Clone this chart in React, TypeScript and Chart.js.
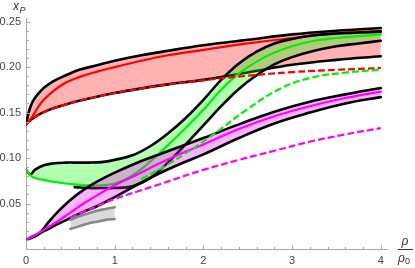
import { useEffect, useRef } from 'react';
import { Chart, registerables } from 'chart.js';
Chart.register(...registerables);

// ---------------- data ----------------
const xTickValues = [0, 1, 2, 3, 4];
const yTickValues = [0.05, 0.1, 0.15, 0.2, 0.25];

// red band
const redX = [0, 0.03, 0.06, 0.1, 0.15, 0.2, 0.3, 0.45, 0.6, 0.8, 1.0, 1.3, 1.6, 2.0, 2.5, 3.0, 3.5, 4.0];
const redUpperBlack = [0.137, 0.15, 0.159, 0.166, 0.172, 0.177, 0.184, 0.191, 0.197, 0.202, 0.207, 0.213, 0.218, 0.224, 0.23, 0.236, 0.24, 0.243];
const redSolid = [0.137, 0.14, 0.144, 0.15, 0.158, 0.164, 0.173, 0.183, 0.189, 0.195, 0.2, 0.207, 0.213, 0.219, 0.226, 0.232, 0.237, 0.24];
const redDashed = [0.137, 0.14, 0.1425, 0.145, 0.148, 0.1505, 0.1545, 0.159, 0.163, 0.1675, 0.1715, 0.1765, 0.181, 0.1855, 0.1905, 0.1945, 0.197, 0.199];
const redLowerBlack = [0.137, 0.14, 0.1425, 0.145, 0.148, 0.1505, 0.1545, 0.159, 0.163, 0.1675, 0.1715, 0.1765, 0.181, 0.186, 0.194, 0.2025, 0.208, 0.212];

// green band
const greenX = [0, 0.05, 0.1, 0.2, 0.3, 0.45, 0.55, 0.7, 0.85, 1.0, 1.2, 1.4, 1.6, 1.8, 2.0, 2.2, 2.4, 2.6, 2.8, 3.0, 3.25, 3.5, 3.75, 4.0];
const greenUpperBlack = [0.087, 0.082, 0.087, 0.092, 0.094, 0.095, 0.095, 0.095, 0.0955, 0.098, 0.103, 0.113, 0.127, 0.144, 0.164, 0.186, 0.204, 0.217, 0.226, 0.231, 0.235, 0.237, 0.238, 0.239];
const greenSolid = [0.087, 0.081, 0.078, 0.076, 0.074, 0.072, 0.071, 0.07, 0.07, 0.072, 0.081, 0.096, 0.114, 0.133, 0.153, 0.175, 0.193, 0.206, 0.216, 0.223, 0.229, 0.232, 0.234, 0.236];
const greenLowerX = [0.55, 0.7, 0.85, 1.0, 1.2, 1.4, 1.6, 1.8, 2.0, 2.2, 2.4, 2.6, 2.8, 3.0, 3.25, 3.5, 3.75, 4.0];
const greenLowerBlack = [0.068, 0.067, 0.067, 0.067, 0.069, 0.078, 0.095, 0.115, 0.136, 0.157, 0.176, 0.191, 0.203, 0.211, 0.218, 0.223, 0.226, 0.229];
const greenDashX = [1.3, 1.6, 2.07, 2.5, 2.86, 3.2, 3.6, 4.0];
const greenDashed = [0.077, 0.093, 0.123, 0.154, 0.176, 0.188, 0.194, 0.197];

// magenta band
const magX = [0, 0.08, 0.15, 0.25, 0.35, 0.5, 0.65, 0.8, 1.0, 1.28, 1.5, 1.75, 2.0, 2.4, 2.8, 3.2, 3.6, 4.0];
const magUpperBlack = [0.01, 0.013, 0.017, 0.029, 0.04, 0.054, 0.065, 0.074, 0.084, 0.096, 0.104, 0.113, 0.122, 0.137, 0.151, 0.162, 0.17, 0.177];
const magSolid = [0.01, 0.014, 0.018, 0.024, 0.03, 0.04, 0.05, 0.059, 0.07, 0.083, 0.094, 0.105, 0.115, 0.132, 0.146, 0.157, 0.166, 0.173];
const magLowerBlack = [0.01, 0.014, 0.017, 0.022, 0.027, 0.034, 0.041, 0.047, 0.057, 0.072, 0.083, 0.094, 0.104, 0.122, 0.138, 0.15, 0.16, 0.167];
const magDashX = [0.5, 0.65, 0.8, 1.0, 1.28, 1.5, 2.0, 2.4, 2.8, 3.2, 3.6, 4.0];
const magDashed = [0.034, 0.041, 0.047, 0.055, 0.064, 0.071, 0.087, 0.098, 0.108, 0.118, 0.126, 0.133];

// gray band
const grayX = [0.5, 0.6, 0.7, 0.8, 0.9, 1.0];
const grayUpper = [0.032, 0.036, 0.039, 0.042, 0.044, 0.046];
const grayLower = [0.022, 0.025, 0.028, 0.03, 0.032, 0.033];

// ---------------- helpers ----------------
const pts = (xs: number[], ys: number[]) => xs.map((x, i) => ({ x, y: ys[i] }));
const FONT = '"Liberation Sans", Arial, sans-serif';

type DS = any;
function buildDatasets() {
  const layers: DS[] = [];
  const add = (d: DS) => {
    layers.push({
      pointRadius: 0,
      tension: 0.4,
      fill: false,
      borderCapStyle: 'round',
      borderJoinStyle: 'round',
      ...d,
    });
    return layers.length - 1;
  };
  const invisible = 'rgba(0,0,0,0)';
  const bandFill = (xs: number[], up: number[], lo: number[], color: string) => {
    const li = add({ data: pts(xs, lo), borderColor: invisible, borderWidth: 1 });
    add({ data: pts(xs, up), borderColor: invisible, borderWidth: 1, fill: { target: li }, backgroundColor: color });
  };
  const dashed = { borderDash: [7, 3], borderCapStyle: 'butt' };

  bandFill(redX, redUpperBlack, redLowerBlack, 'rgba(255,0,0,0.3)');
  add({ data: pts(redX, redLowerBlack), borderColor: '#000', borderWidth: 2.6 });
  add({ data: pts(redX, redUpperBlack), borderColor: '#000', borderWidth: 2.6 });
  add({ data: pts(redX, redSolid), borderColor: '#ff0000', borderWidth: 2.2 });

  const greenFillLower = [...greenSolid.slice(0, 6), ...greenLowerBlack];
  bandFill(greenX, greenUpperBlack, greenFillLower, 'rgba(0,255,0,0.3)');
  add({ data: pts(greenX, greenUpperBlack), borderColor: '#000', borderWidth: 2.6 });
  add({ data: pts(greenLowerX, greenLowerBlack), borderColor: '#000', borderWidth: 2.6 });
  add({ data: pts(greenX, greenSolid), borderColor: '#00f000', borderWidth: 2.2 });
  add({ data: pts(redX, redDashed), borderColor: '#ff0000', borderWidth: 2.2, ...dashed });

  bandFill(magX, magUpperBlack, magLowerBlack, 'rgba(255,0,255,0.3)');
  add({ data: pts(magX, magLowerBlack), borderColor: '#000', borderWidth: 2.6 });
  add({ data: pts(magX, magUpperBlack), borderColor: '#000', borderWidth: 2.6 });
  add({ data: pts(magX, magSolid), borderColor: '#ff00ff', borderWidth: 2.2 });
  add({ data: pts(magDashX, magDashed), borderColor: '#ff00ff', borderWidth: 2.2, ...dashed });
  add({ data: pts(greenDashX, greenDashed), borderColor: '#00f000', borderWidth: 2.2, ...dashed });

  bandFill(grayX, grayUpper, grayLower, 'rgba(128,128,128,0.3)');
  add({ data: pts(grayX, grayUpper), borderColor: '#888', borderWidth: 2.6 });
  add({ data: pts(grayX, grayLower), borderColor: '#888', borderWidth: 2.6 });

  const n = layers.length;
  layers.forEach((d, k) => (d.order = n - k));
  return layers;
}

const axisDecor = {
  id: 'axisDecor',
  afterDraw(chart: any) {
    const { ctx, scales } = chart;
    const xs = scales.x;
    const ys = scales.y;
    const x0 = Math.round(xs.getPixelForValue(0)) + 0.5;
    const y0 = Math.round(ys.getPixelForValue(0)) + 0.5;
    ctx.save();
    ctx.strokeStyle = '#a8a8a8';
    ctx.lineWidth = 1;
    ctx.beginPath();
    for (let i = 1; i <= 20; i++) {
      const px = Math.round(xs.getPixelForValue(i * 0.2)) + 0.5;
      const len = i % 5 === 0 ? 4 : 2.5;
      ctx.moveTo(px, y0);
      ctx.lineTo(px, y0 - len);
    }
    for (let i = 1; i <= 25; i++) {
      const py = Math.round(ys.getPixelForValue(i * 0.01)) + 0.5;
      const len = i % 5 === 0 ? 4 : 2.5;
      ctx.moveTo(x0, py);
      ctx.lineTo(x0 + len, py);
    }
    ctx.stroke();

    ctx.fillStyle = '#333';
    ctx.textBaseline = 'alphabetic';
    ctx.textAlign = 'left';
    ctx.font = `italic 12px ${FONT}`;
    ctx.fillText('x', 13, 10);
    ctx.font = `italic 9px ${FONT}`;
    ctx.fillText('P', 19.5, 13);

    ctx.textAlign = 'center';
    ctx.font = `italic 12px ${FONT}`;
    ctx.fillText('ρ', 405, 245);
    ctx.beginPath();
    ctx.strokeStyle = '#333';
    ctx.moveTo(398, 249.5);
    ctx.lineTo(413, 249.5);
    ctx.stroke();
    ctx.textAlign = 'left';
    ctx.fillText('ρ', 398, 262);
    ctx.font = `9px ${FONT}`;
    ctx.fillText('0', 405, 264);
    ctx.restore();
  },
};

export default function App() {
  const ref = useRef<HTMLCanvasElement>(null);
  useEffect(() => {
    if (!ref.current) return;
    const chart = new Chart(ref.current, {
      type: 'line',
      data: { datasets: buildDatasets() },
      options: {
        animation: false,
        responsive: false,
        devicePixelRatio: 1,
        layout: { padding: { top: 18, right: 28, left: 0, bottom: 0 } },
        plugins: { legend: { display: false }, tooltip: { enabled: false }, filler: { propagate: false } },
        scales: {
          x: {
            type: 'linear',
            min: 0,
            max: 4.07,
            grid: { display: false, drawTicks: false },
            border: { display: true, color: '#a8a8a8', width: 1 },
            ticks: { font: { family: FONT, size: 11 }, color: '#444', padding: 5, maxRotation: 0, autoSkip: false, callback: (v: any) => String(v) },
            afterBuildTicks: (s: any) => { s.ticks = xTickValues.map((v) => ({ value: v })); },
            afterFit: (s: any) => { s.height = 19; },
          },
          y: {
            type: 'linear',
            min: 0,
            max: 0.254,
            grid: { display: false, drawTicks: false },
            border: { display: true, color: '#a8a8a8', width: 1 },
            ticks: { font: { family: FONT, size: 11 }, color: '#444', padding: 5, autoSkip: false, callback: (v: any) => Number(v).toFixed(2) },
            afterBuildTicks: (s: any) => { s.ticks = yTickValues.map((v) => ({ value: v })); },
            afterFit: (s: any) => { s.width = 26; },
          },
        },
      } as any,
      plugins: [axisDecor],
    });
    return () => chart.destroy();
  }, []);
  return (
    <div style={{ position: 'fixed', left: 0, top: 0, width: 415, height: 268, background: '#fff' }}>
      <canvas ref={ref} width={415} height={268} />
    </div>
  );
}
